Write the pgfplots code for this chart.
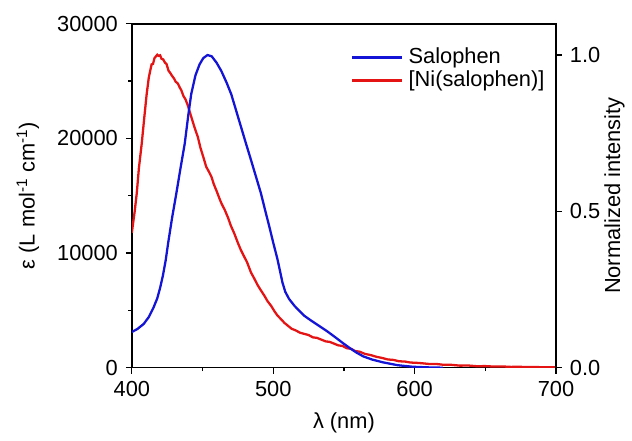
\documentclass[border=0pt]{standalone}
\usepackage{fontspec}
\setmainfont{Liberation Sans}
\usepackage{pgfplots}
\pgfplotsset{compat=1.18}

\definecolor{cblue}{RGB}{20,20,215}
\definecolor{cred}{RGB}{228,20,20}

\begin{document}
\fontsize{22}{26}\selectfont
\begin{tikzpicture}
\pgfplotsset{
  every axis/.append style={
    width=428pt, height=347pt, scale only axis,
    xmin=400, xmax=700,
    tick align=outside,
    major tick length=6pt, minor tick length=3.5pt,
    line width=1.5pt,
    every tick/.style={line width=1.3pt, black},
    /pgf/number format/assume math mode=true,
    tick label style={font=\fontsize{22}{26}\selectfont},
    label style={font=\fontsize{22}{26}\selectfont},
  }
}
% left axis: absorption
\begin{axis}[
    name=ax,
    ymin=0, ymax=30000,
    xtick={400,500,600,700},
    minor xtick={450,550,650},
    ytick={0,10000,20000,30000},
    minor ytick={5000,15000,25000},
    xtick pos=bottom, ytick pos=left,
    scaled y ticks=false,
    yticklabel style={/pgf/number format/1000 sep={}},
    xticklabel style={/pgf/number format/1000 sep={}},
    xlabel={λ (nm)},
    ylabel={ε (L mol\textsuperscript{-1} cm\textsuperscript{-1})},
    xlabel style={at={(axis description cs:0.5,-0.161)}, anchor=center},
    ylabel style={at={(axis description cs:-0.245,0.5)}, anchor=center},
]
\addplot[cred, line width=2.3pt] coordinates {
(400,11760) (401,12700) (402,13600) (403.5,15220) (405,17400) (407,19540)
(408.8,21800) (410.5,23860) (412,25300) (413,25900) (414,26460) (415,26500)
(416,27000) (417,27150) (418,27300) (419,27200) (420,27250) (421,26950)
(422.2,26890) (423.5,26600) (424.5,26500) (426,25900) (427,25740) (428.5,25450)
(430,25200) (431,24950) (432.5,24800) (433.9,24440) (435,24200) (436.5,23700)
(438,23400) (439.7,22850) (441,22300) (443,21500) (444.5,20900) (446.7,20120)
(448.5,19200) (450.5,18400) (452.6,17530) (454.5,17100) (456.3,16660) (458,16000)
(460,15400) (462,14750) (463.5,14300) (465.7,13770) (468,13100) (470,12400)
(472.5,11700) (475,10890) (477,10300) (479,9800) (481.5,9200) (484.3,8300)
(486.5,7800) (489,7200) (491,6800) (493.7,6290) (496,5800) (498.5,5400)
(501,4900) (503,4550) (505.3,4260) (508,3900) (510,3700) (513,3400)
(516,3250) (519,3050) (522,2950) (525,2850) (528,2650) (531,2600)
(534,2450) (537,2300) (540,2250) (543,2100) (546,1950) (549,1900)
(552,1700) (555,1650) (558,1450) (561,1400) (565,1200) (569,1100)
(573,950) (577,850) (581,720) (585,680) (589,560) (593,540)
(597,450) (601,430) (605,390) (610,330) (615,330) (620,260)
(626,250) (632,180) (638,190) (644,130) (650,140) (656,100)
(662,110) (668,70) (674,80) (680,50) (686,60) (692,30) (700,30)
};
\end{axis}
% right axis: emission
\begin{axis}[
    ymin=0, ymax=1.1,
    axis x line=none,
    axis y line*=right,
    ytick={0,0.5,1.0},
    yticklabel style={/pgf/number format/.cd, fixed, fixed zerofill, precision=1},
    ylabel={Normalized intensity},
    ylabel style={at={(axis description cs:1.138,0.5)}, anchor=center},
    legend style={at={(axis description cs:0.979,0.938)}, anchor=north east,
      draw=none, fill=none, font=\fontsize{22}{26}\selectfont,
      row sep=0pt, inner sep=0pt},
    legend cell align=left,
    legend image code/.code={\draw[#1] (0pt,0pt) -- (50pt,0pt); \path (54pt,0pt);},
]
\addplot[cblue, line width=2.3pt] coordinates {
(400,0.114) (404,0.124) (408.4,0.140) (412,0.162) (415.4,0.193) (418,0.222)
(420.1,0.257) (422,0.295) (424,0.345) (425.7,0.399) (428.5,0.480) (431.5,0.558)
(434.5,0.640) (437.4,0.716) (440,0.810) (442,0.875) (445,0.935) (447.9,0.970)
(450.5,0.990) (453.5,1.0) (456.5,0.996) (460,0.975) (463.3,0.949) (467,0.912)
(470.3,0.875) (473.8,0.822) (477.3,0.769) (480.8,0.716) (484.3,0.664) (487.8,0.611)
(491.3,0.558) (494.2,0.505) (497.2,0.452) (500,0.400) (503,0.347) (505,0.305)
(506.5,0.273) (508.5,0.243) (511.2,0.220) (515,0.198) (521.7,0.167) (527,0.150)
(532,0.135) (538,0.117) (544,0.097) (549.8,0.077) (555,0.060) (559,0.048)
(563.8,0.036) (570,0.026) (577.8,0.017) (588,0.008) (598.8,0.003) (610,0.001)
(620,0)
};
\addlegendentry{Salophen}
\addlegendimage{cred, line width=2.3pt}
\addlegendentry{[Ni(salophen)]}
\end{axis}
\path ([xshift=-133pt,yshift=-68pt]ax.south west) rectangle ([xshift=71pt,yshift=24pt]ax.north east);
\end{tikzpicture}
\end{document}
